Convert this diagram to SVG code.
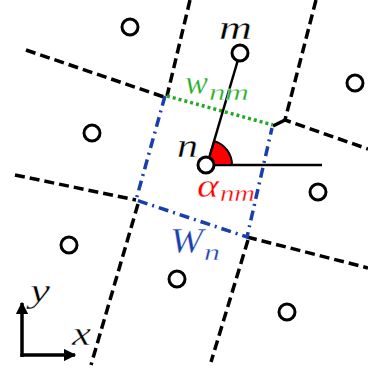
<svg xmlns="http://www.w3.org/2000/svg" width="368" height="369" viewBox="0 0 368 369">
<defs>
<style>
.vor{fill:none;stroke:#000;stroke-width:3.5;stroke-dasharray:10 5}
.cell{fill:none;stroke:#1a3fad;stroke-width:3.5;stroke-dasharray:10 5 2 5}
.wnm{fill:none;stroke:#22aa22;stroke-width:3.5;stroke-dasharray:3 3}
.site{fill:#fff;stroke:#000;stroke-width:3}
.ln{stroke:#000;stroke-width:2.5;fill:none}
.lbl{font-family:"Liberation Serif",serif;font-style:italic;stroke:#fff;stroke-width:0.35}
.ax{stroke:#000;stroke-width:3.5;fill:none}
</style>
<marker id="ah" viewBox="0 0 10 10" refX="9" refY="5" markerWidth="4" markerHeight="3.5" orient="auto" markerUnits="strokeWidth">
<path d="M0,0 L10,5 L0,10 Z" fill="#000"/>
</marker>
</defs>
<rect width="368" height="369" fill="#fff"/>
<g id="connectors">
<path class="vor" d="M190,0 L167,96"/>
<path class="vor" d="M26,50 L164,97"/>
<path class="vor" d="M316,0 L285,120 L368,149"/>
<path class="vor" d="M15,175 L136,200"/>
<path class="vor" d="M138,204 L91,365"/>
<path class="vor" d="M247,237 L368,268"/>
<path class="vor" d="M248,240 L211,362"/>
<path d="M285,120 L273,126" stroke="#000" stroke-width="3.5" fill="none"/>
<path class="cell" d="M165,96 L136,200 L247,237 L272,128"/>
<path class="wnm" d="M167,96 L273,125"/>
<path class="ln" d="M207,165 L240,53"/>
<path class="ln" d="M207,165 L322,165"/>
<path d="M207,165 L232,165 A25,25 0 0 0 214.4,141.1 Z" fill="#ff0000" stroke="#000" stroke-width="2"/>
</g>
<g id="sites">
<circle id="s1" class="site" cx="130" cy="27" r="8"/>
<circle id="m" class="site" cx="240" cy="53" r="8"/>
<circle id="s3" class="site" cx="355" cy="83" r="8"/>
<circle id="s4" class="site" cx="92" cy="133" r="8"/>
<circle id="n" class="site" cx="206" cy="165" r="8"/>
<circle id="s6" class="site" cx="318" cy="192" r="8"/>
<circle id="s7" class="site" cx="69" cy="245" r="8"/>
<circle id="s8" class="site" cx="177" cy="279" r="8"/>
<circle id="s9" class="site" cx="287" cy="312" r="8"/>
</g>
<g id="labels" class="lbl">
<text x="219" y="39" font-size="34" textLength="33" lengthAdjust="spacingAndGlyphs">m</text>
<text x="177" y="157" font-size="34" textLength="21" lengthAdjust="spacingAndGlyphs">n</text>
<g fill="#22aa22">
<text x="185" y="94" font-size="34" textLength="23" lengthAdjust="spacingAndGlyphs">w</text>
<text x="209" y="100" font-size="24" textLength="40" lengthAdjust="spacingAndGlyphs">nm</text>
</g>
<g fill="#ff0000">
<text x="197" y="197" font-size="34" textLength="22" lengthAdjust="spacingAndGlyphs">α</text>
<text x="220" y="201" font-size="24" textLength="35" lengthAdjust="spacingAndGlyphs">nm</text>
</g>
<g fill="#1a3fad">
<text x="170" y="253" font-size="36" textLength="33" lengthAdjust="spacingAndGlyphs">W</text>
<text x="204" y="260" font-size="24" textLength="16" lengthAdjust="spacingAndGlyphs">n</text>
</g>
<text x="30" y="302" font-size="34" textLength="20" lengthAdjust="spacingAndGlyphs">y</text>
<text x="72" y="345" font-size="34" textLength="19" lengthAdjust="spacingAndGlyphs">x</text>
</g>
<g id="axes">
<path class="ax" d="M22,357 L22,303" marker-end="url(#ah)"/>
<path class="ax" d="M20.5,355 L75,355" marker-end="url(#ah)"/>
</g>
</svg>
